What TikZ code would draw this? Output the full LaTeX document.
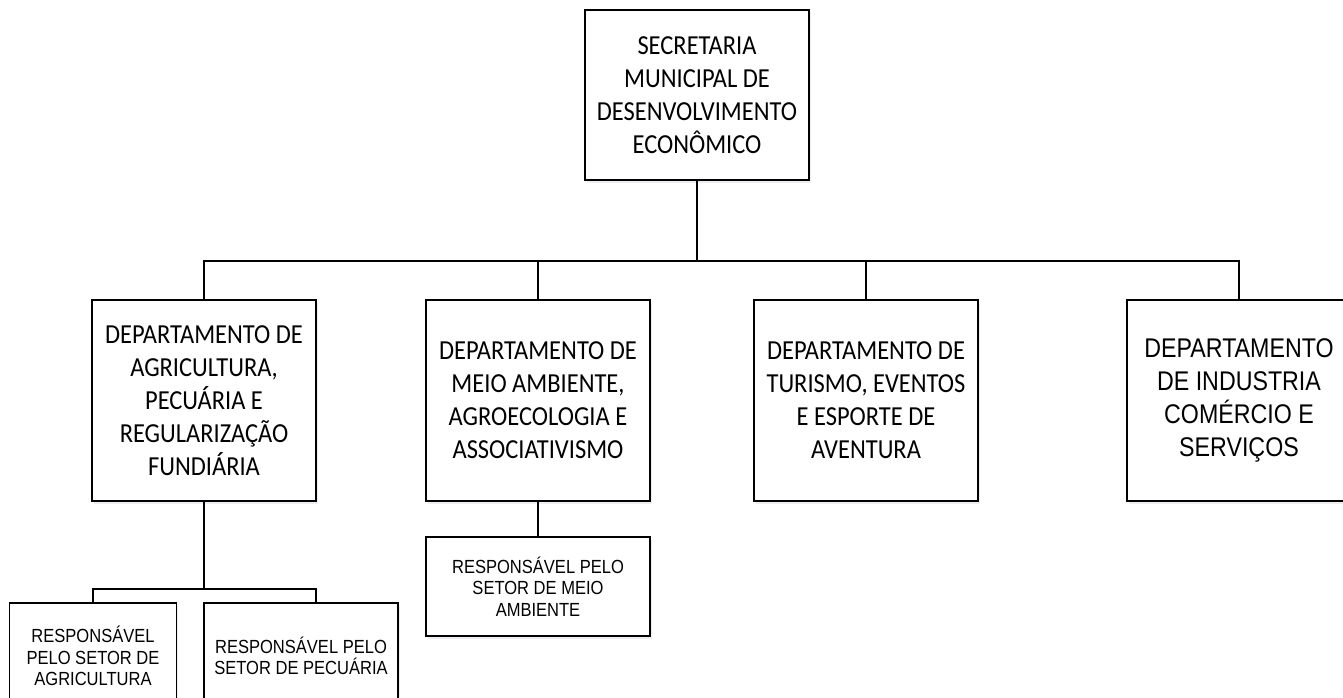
\documentclass[tikz,border=0pt]{standalone}
\usepackage{fontspec}
\setmainfont{Carlito}
\newfontfamily\calibfont[FakeStretch=0.89]{Carlito}
\newfontfamily\arialfont[FakeStretch=0.86]{Liberation Sans}
\newfontfamily\arialsmfont[FakeStretch=0.87]{Liberation Sans}
\usetikzlibrary{shadows}
\tikzset{
  box/.style={draw=black, line width=1.5pt, fill=white, inner sep=0pt, align=center,
    drop shadow={shadow xshift=1.5pt, shadow yshift=-3pt, fill=blue!15!gray!25, opacity=0.45}},
  bigtext/.style={font=\calibfont\fontsize{27.5}{33}\selectfont},
  arialbig/.style={font=\arialfont\fontsize{27}{33}\selectfont},
  arialsmall/.style={font=\arialsmfont\fontsize{19}{21.5}\selectfont},
  conn/.style={draw=black, line width=1.8pt}
}
\begin{document}
\begin{tikzpicture}[x=1pt, y=-1pt]
\useasboundingbox (0,0) rectangle (1343,697);
\clip (0,0) rectangle (1343,697);
\fill[white] (0,0) rectangle (1343,697);

\node[box, bigtext, minimum width=224pt, minimum height=170pt] (top) at (697,95)
  {SECRETARIA\\MUNICIPAL DE\\DESENVOLVIMENTO\\ECONÔMICO};

\node[box, bigtext, minimum width=224pt, minimum height=201pt] (d1) at (204,400.5)
  {DEPARTAMENTO DE\\AGRICULTURA,\\PECUÁRIA E\\REGULARIZAÇÃO\\FUNDIÁRIA};
\node[box, bigtext, minimum width=224pt, minimum height=201pt] (d2) at (538,400.5)
  {DEPARTAMENTO DE\\MEIO AMBIENTE,\\AGROECOLOGIA E\\ASSOCIATIVISMO};
\node[box, bigtext, minimum width=224pt, minimum height=201pt] (d3) at (866,400.5)
  {DEPARTAMENTO DE\\TURISMO, EVENTOS\\E ESPORTE DE\\AVENTURA};
\node[box, arialbig, minimum width=224pt, minimum height=201pt] (d4) at (1239,400.5)
  {\raisebox{-3pt}{\begin{tabular}{@{}c@{}}DEPARTAMENTO\\DE INDUSTRIA\\COMÉRCIO E\\SERVIÇOS\end{tabular}}};

\node[box, arialsmall, minimum width=224pt, minimum height=99pt] (s3) at (538,586.5)
  {RESPONSÁVEL PELO\\SETOR DE MEIO\\AMBIENTE};
\node[box, arialsmall, minimum width=167pt, minimum height=106pt] (s1) at (93,656)
  {RESPONSÁVEL\\PELO SETOR DE\\AGRICULTURA};
\node[box, arialsmall, minimum width=194pt, minimum height=106pt] (s2) at (301,656)
  {RESPONSÁVEL PELO\\SETOR DE PECUÁRIA};

\coordinate (bar) at (0,261);
\coordinate (sbar) at (0,589);
\coordinate (sdrop) at (316,603);

\draw[conn] (top.south) -- (top.south |- bar);
\draw[conn] (d1.north) -- (d1.north |- bar) -- (d4.north |- bar) -- (d4.north);
\draw[conn] (d2.north) -- (d2.north |- bar);
\draw[conn] (d3.north) -- (d3.north |- bar);
\draw[conn] (d2.south) -- (s3.north);
\draw[conn] (d1.south) -- (d1.south |- sbar);
\draw[conn] (s1.north) -- (s1.north |- sbar) -- (sdrop |- sbar) -- (sdrop);
\end{tikzpicture}
\end{document}
